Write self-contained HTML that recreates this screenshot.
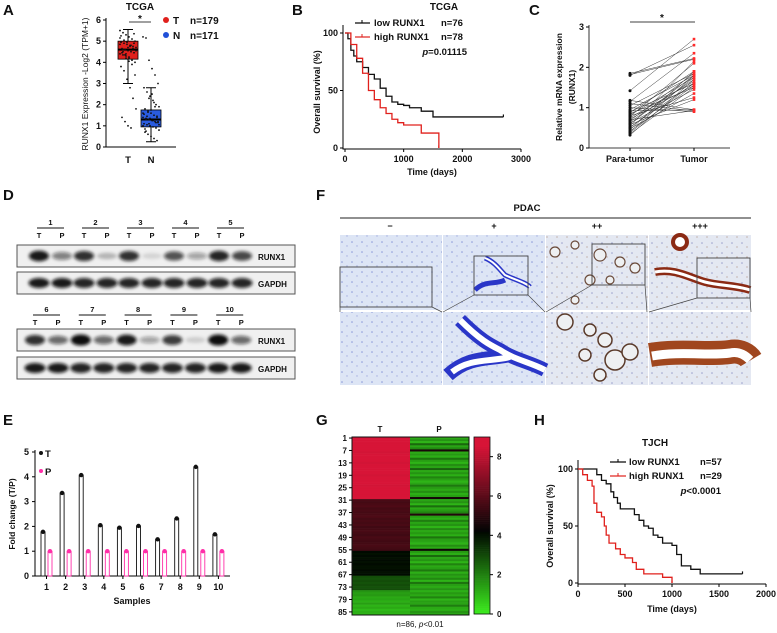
<!DOCTYPE html>
<html><head><meta charset="utf-8"><style>
html,body{margin:0;padding:0;background:#fff;}
svg{display:block;font-family:"Liberation Sans",Arial,sans-serif;font-weight:bold;}
text{fill:#111;}
</style></head><body>
<svg id="fig" width="777" height="633" viewBox="0 0 777 633" xmlns="http://www.w3.org/2000/svg">
<defs>
<filter id="blur" x="-30%" y="-80%" width="160%" height="260%"><feGaussianBlur stdDeviation="1.6"/></filter>
<pattern id="tissue" width="10" height="10" patternUnits="userSpaceOnUse">
<rect width="10" height="10" fill="#dde5f5"/>
<circle cx="2" cy="2" r="0.8" fill="#8a98d8"/><circle cx="7" cy="6" r="0.7" fill="#a4aee0"/>
</pattern>
<pattern id="tissue2" width="10" height="10" patternUnits="userSpaceOnUse">
<rect width="10" height="10" fill="#e4e8f2"/>
<circle cx="2" cy="3" r="0.8" fill="#9aa0cc"/><circle cx="7" cy="7" r="0.6" fill="#b09080"/>
</pattern>
</defs>

<g font-size="15">
<text x="3" y="15">A</text><text x="292" y="15">B</text><text x="529" y="15">C</text>
<text x="3" y="200">D</text><text x="316" y="200">F</text>
<text x="3" y="425">E</text><text x="316" y="425">G</text><text x="534" y="425">H</text>
</g>

<g id="panelA" font-size="9">
<text x="140" y="10" text-anchor="middle" font-size="10">TCGA</text>
<text transform="translate(88,84) rotate(-90)" text-anchor="middle" font-size="8.5" font-weight="normal">RUNX1 Expression -Log2 (TPM+1)</text>
<line x1="129" y1="22" x2="151" y2="22" stroke="#000" stroke-width="0.8"/>
<text x="140" y="22" text-anchor="middle" font-size="10">*</text>
<circle cx="166" cy="20" r="3" fill="#e0201c"/>
<text x="173" y="24" font-size="10">T</text><text x="190" y="24" font-size="10">n=179</text>
<circle cx="166" cy="35" r="3" fill="#2050d8"/>
<text x="173" y="39" font-size="10">N</text><text x="190" y="39" font-size="10">n=171</text>
</g>

<g id="panelB" font-size="9">
<text x="444" y="10" text-anchor="middle" font-size="10">TCGA</text>
<text transform="translate(320,92) rotate(-90)" text-anchor="middle" font-size="9">Overall survival (%)</text>
<text x="432" y="175" text-anchor="middle" font-size="9">Time (days)</text>
<line x1="355" y1="23" x2="370" y2="23" stroke="#000" stroke-width="1.2"/><line x1="362" y1="20" x2="362" y2="23" stroke="#000"/>
<text x="374" y="26" font-size="9.5">low RUNX1</text><text x="441" y="26" font-size="9.5">n=76</text>
<line x1="355" y1="37" x2="370" y2="37" stroke="#e0201c" stroke-width="1.2"/><line x1="362" y1="34" x2="362" y2="37" stroke="#e0201c"/>
<text x="374" y="40" font-size="9.5">high RUNX1</text><text x="441" y="40" font-size="9.5">n=78</text>
<text x="467" y="55" text-anchor="end" font-size="9.5"><tspan font-style="italic">p</tspan>=0.01115</text>
</g>

<g id="panelC" font-size="9">
<text transform="translate(562,87) rotate(-90)" text-anchor="middle" font-size="8.5">Relative mRNA expression</text>
<text transform="translate(575,87) rotate(-90)" text-anchor="middle" font-size="8.5">(RUNX1)</text>
<line x1="630" y1="22" x2="695" y2="22" stroke="#000" stroke-width="0.8"/>
<text x="662" y="21" text-anchor="middle" font-size="10">*</text>
</g>

<g id="panelD" font-size="7.5"></g>

<g id="panelF" font-size="9">
<text x="527" y="211" text-anchor="middle" font-size="9.5">PDAC</text>
<line x1="340" y1="218" x2="751" y2="218" stroke="#222" stroke-width="1"/>
<text x="390" y="229" text-anchor="middle">−</text><text x="494" y="229" text-anchor="middle">+</text>
<text x="597" y="229" text-anchor="middle">++</text><text x="700" y="229" text-anchor="middle">+++</text>
</g>

<g id="panelE" font-size="8.5">
<text transform="translate(15,514) rotate(-90)" text-anchor="middle" font-size="8.5">Fold change (T/P)</text>
<text x="132" y="604" text-anchor="middle" font-size="9">Samples</text>
<circle cx="41" cy="453" r="2" fill="#111"/><text x="45" y="457" font-size="9.5">T</text>
<circle cx="41" cy="471" r="2" fill="#ff2fa8"/><text x="45" y="475" font-size="9.5">P</text>
</g>

<g id="panelG" font-size="8">
<text x="380" y="432" text-anchor="middle" font-size="8">T</text>
<text x="439" y="432" text-anchor="middle" font-size="8">P</text>
<text x="420" y="627" text-anchor="middle" font-size="8" font-weight="normal">n=86, <tspan font-style="italic">p</tspan>&lt;0.01</text>
</g>

<g id="panelH" font-size="9">
<text x="655" y="446" text-anchor="middle" font-size="10">TJCH</text>
<text transform="translate(553,526) rotate(-90)" text-anchor="middle" font-size="9">Overall survival (%)</text>
<text x="672" y="612" text-anchor="middle" font-size="9">Time (days)</text>
<line x1="610" y1="462" x2="626" y2="462" stroke="#000" stroke-width="1.2"/><line x1="618" y1="459" x2="618" y2="462" stroke="#000"/>
<text x="629" y="465" font-size="9.5">low RUNX1</text><text x="700" y="465" font-size="9.5">n=57</text>
<line x1="610" y1="476" x2="626" y2="476" stroke="#e0201c" stroke-width="1.2"/><line x1="618" y1="473" x2="618" y2="476" stroke="#e0201c"/>
<text x="629" y="479" font-size="9.5">high RUNX1</text><text x="700" y="479" font-size="9.5">n=29</text>
<text x="721" y="494" text-anchor="end" font-size="9.5"><tspan font-style="italic">p</tspan>&lt;0.0001</text>
</g>
</svg>
<script>
const boxGroups = ["T","N"];
const boxQ1 = [4.15, 0.95];
const boxMed = [4.6, 1.3];
const boxQ3 = [5.0, 1.75];
const boxLo = [3.0, 0.25];
const boxHi = [5.55, 2.8];
const aYTicks = [0,1,2,3,4,5,6];
const tumorPts = [5.5,5.4,5.3,5.2,5.1,5.0,4.95,4.9,4.85,4.8,4.75,4.7,4.65,4.6,4.55,4.5,4.45,4.4,4.35,4.3,4.2,4.1,4.0,3.8,3.6,3.2,2.8,2.3,1.8,1.4,1.2,1.0,0.9,5.35,4.85,4.6,4.4,4.25,3.9,3.4,5.25,5.05,4.95,4.75,4.65,4.55,4.45,4.35,4.7,4.8,4.9,5.15,4.5,4.2,4.05];
const normalPts = [5.2,5.15,4.1,3.7,3.4,3.0,2.8,2.6,2.4,2.2,2.0,1.9,1.8,1.7,1.6,1.5,1.45,1.4,1.35,1.3,1.25,1.2,1.15,1.1,1.05,1.0,0.95,0.9,0.8,0.7,0.6,0.5,0.4,0.3,1.6,1.3,1.1,2.5,1.9,1.2,1.55,1.45,1.35,1.25,1.15,1.05,0.85,1.65,1.75,2.1,1.4,1.0,0.75,2.3];
const bXTicks = [0,1000,2000,3000];
const bYTicks = [0,50,100];
const bLowT = [0,50,100,150,200,300,400,500,600,700,800,900,1000,1100,1300,1500,2700];
const bLowS = [100,95,85,80,75,70,64,60,52,45,40,38,37,35,32,27,27];
const bHighT = [0,100,200,300,400,500,600,700,800,900,1000,1300,1600];
const bHighS = [100,90,78,65,50,42,35,30,25,22,20,13,0];
const cCats = ["Para-tumor","Tumor"];
const cYTicks = [0,1,2,3];
const cPara = [1.85,1.82,1.8,1.42,1.18,1.15,1.1,1.05,1.0,0.95,0.92,0.9,0.88,0.85,0.82,0.8,0.78,0.75,0.72,0.7,0.68,0.65,0.62,0.6,0.58,0.55,0.52,0.5,0.48,0.45,0.42,0.4,0.38,0.35,0.32];
const cTumor = [2.22,2.2,2.55,2.7,0.95,2.35,0.92,1.85,0.9,1.8,0.95,1.6,1.9,1.5,1.75,1.25,2.1,1.65,1.55,0.93,1.85,1.7,1.45,1.8,1.2,2.15,1.6,1.75,1.35,1.9,1.55,1.8,1.62,1.5,1.7];
const dSamples1 = ["1","2","3","4","5"];
const dSamples2 = ["6","7","8","9","10"];
const dRunxT1 = [0.95,0.85,0.85,0.7,0.9];
const dRunxP1 = [0.5,0.25,0.12,0.35,0.75];
const dRunxT2 = [0.85,1,0.95,0.8,1];
const dRunxP2 = [0.6,0.6,0.35,0.15,0.6];
const dGapdh = [0.95,0.9,0.9,0.9,0.9,0.95,0.9,0.9,0.9,0.95];
const eSamples = ["1","2","3","4","5","6","7","8","9","10"];
const eT = [1.78,3.35,4.07,2.05,1.95,2.02,1.48,2.32,4.4,1.68];
const eP = [1,1,1,1,1,1,1,1,1,1];
const eYTicks = [0,1,2,3,4,5];
const gRowLabels = ["1","7","13","19","25","31","37","43","49","55","61","67","73","79","85"];
const gT = [8.6,8.7,8.5,8.6,8.8,8.5,8.6,8.4,8.7,8.6,8.5,8.6,8.4,8.7,8.5,8.6,8.6,8.5,8.4,8.7,8.6,8.5,8.6,8.4,8.6,8.5,8.7,8.6,8.5,8.6,
 5.6,5.5,5.6,5.7,5.5,5.6,5.5,5.6,5.7,5.5,5.6,5.5,5.6,5.4,5.5,5.6,5.5,5.4,5.6,5.5,5.4,5.5,5.6,5.5,5.4,
 4.1,4.0,4.1,4.0,4.1,4.0,4.1,4.0,4.0,4.1,4.0,4.1,
 2.9,2.8,2.9,2.8,2.9,2.8,2.9,
 1.6,1.4,1.5,1.2,1.3,1.1,1.4,1.0,1.2,0.9,1.1,1.0];
const gP = [1.2,1.6,1.0,2.4,1.3,1.8,4.6,1.2,1.5,1.1,2.2,1.4,1.0,1.7,1.3,2.5,1.2,1.6,1.1,1.9,1.4,1.0,1.3,2.1,1.5,1.2,1.7,1.1,1.4,4.5,
 1.3,1.6,1.0,2.3,1.2,1.5,1.9,4.8,1.4,1.1,2.0,1.3,1.6,1.0,1.8,1.2,1.5,1.1,2.2,1.4,1.3,1.0,1.7,1.2,4.4,
 1.5,1.1,2.4,1.3,1.6,1.0,1.9,1.2,1.4,2.1,1.1,1.6,
 1.3,1.8,1.0,2.2,1.4,1.2,1.6,
 1.1,1.5,1.2,1.9,1.0,1.4,1.3,2.0,1.2,1.1,1.6,1.3];
const gBarTicks = [0,2,4,6,8];
const hXTicks = [0,500,1000,1500,2000];
const hYTicks = [0,50,100];
const hLowT = [0,150,200,250,300,350,380,420,450,550,600,650,700,750,800,850,900,1000,1050,1100,1200,1300,1750];
const hLowS = [100,100,95,90,87,80,75,70,65,65,60,55,50,48,42,40,35,33,25,15,12,8,8];
const hHighT = [0,50,100,150,170,200,250,280,300,330,400,450,500,580,620,700,900,1000];
const hHighS = [100,95,90,85,70,62,58,50,42,35,30,25,22,18,12,8,5,0];

const NS = "http://www.w3.org/2000/svg";
function mk(tag, attrs, parent){const e=document.createElementNS(NS,tag);for(const k in attrs)e.setAttribute(k,attrs[k]);parent.appendChild(e);return e;}
function lin(d0,d1,r0,r1){return v=>r0+(v-d0)*(r1-r0)/(d1-d0);}
function txt(parent,x,y,s,anchor,size){const t=mk("text",{x:x,y:y,"text-anchor":anchor||"middle","font-size":size||9},parent);t.textContent=s;return t;}

(function(){
const g=document.getElementById("panelA");
const y=lin(0,6,147,20);
const xc=[128,151];
const ax=mk("path",{d:"M106,18V147H176",fill:"none",stroke:"#000","stroke-width":1},g);


aYTicks.forEach(v=>{mk("line",{x1:103,x2:106,y1:y(v),y2:y(v),stroke:"#000"},g);const t=txt(g,101,y(v)+3,String(v),"end",9);

});
boxGroups.forEach((n,i)=>{const t=txt(g,xc[i],163,n,"middle",9.5);

});
const cols=["#e0201c","#2a5ce0"];
boxGroups.forEach((n,i)=>{
 const w=mk("path",{d:`M${xc[i]},${y(boxLo[i])}V${y(boxHi[i])}M${xc[i]-5},${y(boxLo[i])}H${xc[i]+5}M${xc[i]-5},${y(boxHi[i])}H${xc[i]+5}`,stroke:"#000","stroke-width":1},g);
 
 
 const b=mk("rect",{x:xc[i]-10,y:y(boxQ3[i]),width:20,height:y(boxQ1[i])-y(boxQ3[i]),fill:cols[i],stroke:"#000","stroke-width":0.8},g);
 
 
 const m=mk("line",{x1:xc[i]-10,x2:xc[i]+10,y1:y(boxMed[i]),y2:y(boxMed[i]),stroke:"#000","stroke-width":2},g);
 
 
});
[tumorPts,normalPts].forEach((arr,gi)=>arr.forEach((v,i)=>{
 const c=mk("circle",{cx:xc[gi]+((i*37)%17-8),cy:y(v),r:0.9,fill:"#111"},g);
 
 
}));
})();

function km(g,x,y,T,S,col,name){
 let d=`M${x(T[0])},${y(S[0])}`;
 for(let i=1;i<T.length;i++){d+=`H${x(T[i])}V${y(S[i])}`;}
 const p=mk("path",{d:d,fill:"none",stroke:col,"stroke-width":1.3},g);
 
 
 const last=T.length-1;
 const c=mk("line",{x1:x(T[last]),x2:x(T[last]),y1:y(S[last])-2.5,y2:y(S[last]),stroke:col,"stroke-width":1.2},g);
 
 
}
function kmAxes(g,x,y,xt,yt,x0,x1,y0,y1,prefix){
 const a=mk("path",{d:`M${x0},${y1}V${y0}H${x1}`,fill:"none",stroke:"#000","stroke-width":1},g);
 
 
 xt.forEach(v=>{mk("line",{x1:x(v),x2:x(v),y1:y0,y2:y0+3,stroke:"#000"},g);const t=txt(g,x(v),y0+13,String(v),"middle",9);
 
 });
 yt.forEach(v=>{mk("line",{x1:x0-3,x2:x0,y1:y(v),y2:y(v),stroke:"#000"},g);const t=txt(g,x0-5,y(v)+3,String(v),"end",9);
 
 });
}
(function(){
const g=document.getElementById("panelB");
const x=lin(0,3000,345,521), y=lin(0,100,148,33);
kmAxes(g,x,y,bXTicks,bYTicks,343,521,149,25,"panel-b");
km(g,x,y,bLowT,bLowS,"#111","km-low-runx1-tcga");
km(g,x,y,bHighT,bHighS,"#e0201c","km-high-runx1-tcga");
})();

(function(){
const g=document.getElementById("panelC");
const y=lin(0,3,148,27); const xc=[630,694];
const a=mk("path",{d:"M589,25V148H730",fill:"none",stroke:"#000","stroke-width":0.8},g);


cYTicks.forEach(v=>{mk("line",{x1:586,x2:589,y1:y(v),y2:y(v),stroke:"#000"},g);const t=txt(g,584,y(v)+3,String(v),"end",9);

});
cCats.forEach((c,i)=>{mk("line",{x1:xc[i],x2:xc[i],y1:148,y2:151,stroke:"#000"},g);const t=txt(g,xc[i],162,c,"middle",9);

});
cPara.forEach((v,i)=>{
 const l=mk("line",{x1:xc[0],y1:y(v),x2:xc[1],y2:y(cTumor[i]),stroke:"#333","stroke-width":0.5},g);
 
 
 const p=mk("circle",{cx:xc[0],cy:y(v),r:1.5,fill:"#111"},g);
 
 
 const q=mk("rect",{x:xc[1]-1.3,y:y(cTumor[i])-1.3,width:2.6,height:2.6,fill:"#ff2a2a"},g);
 
 
});
})();

(function(){
const g=document.getElementById("panelD");
function blotSet(samples,runT,runP,gapOff,yNum,yRun,yGap,x0,step){
 samples.forEach((s,i)=>{
  const tx=x0+i*step, px=tx+23;
  mk("line",{x1:tx-2,x2:px+2,y1:yNum+3,y2:yNum+3,stroke:"#111","stroke-width":1},g);
  const n=txt(g,(tx+px)/2,yNum,s,"middle",7.5);
  
  
  txt(g,tx,yNum+13,"T","middle",7.5);txt(g,px,yNum+13,"P","middle",7.5);
 });
 [[yRun,"RUNX1"],[yGap,"GAPDH"]].forEach(([yy,lab])=>{
  const r=mk("rect",{x:17,y:yy,width:278,height:22,fill:"#f0f0f0",stroke:"#555","stroke-width":1},g);
  
  
  const t=txt(g,258,yy+15,lab,"start",8);
  
  
 });
 samples.forEach((s,i)=>{
  const tx=x0+i*step, px=tx+23;
  [[tx,runT[i]],[px,runP[i]]].forEach(([bx,v])=>{
   const e=mk("ellipse",{cx:bx,cy:yRun+11,rx:10,ry:2.5+3*v,fill:"#111","fill-opacity":v,filter:"url(#blur)"},g);
   
   
  });
  [[tx,dGapdh[gapOff+i]],[px,dGapdh[gapOff+i]]].forEach(([bx,v])=>{
   const e=mk("ellipse",{cx:bx,cy:yGap+11,rx:10.5,ry:5,fill:"#111","fill-opacity":v,filter:"url(#blur)"},g);
   
   
  });
 });
}
blotSet(dSamples1,dRunxT1,dRunxP1,0,225,245,272,39,45);
blotSet(dSamples2,dRunxT2,dRunxP2,5,312,329,357,35,45.8);
})();

(function(){
const g=document.getElementById("panelF");
const cols=[340,443,546,649], w=102;
cols.forEach((cx,i)=>{
 const a=mk("rect",{x:cx,y:235,width:w,height:75,fill:i<2?"url(#tissue)":"url(#tissue2)"},g);
 
 
 const b=mk("rect",{x:cx,y:312,width:w,height:73,fill:i<2?"url(#tissue)":"url(#tissue2)"},g);
 
 
});
function p(d,attrs,name){const e=mk("path",Object.assign({d:d},attrs),g);}
p("M485,258 C495,262 500,270 505,275 C515,280 525,282 530,287 M475,290 C485,280 495,285 505,280",{fill:"none",stroke:"#2a36c8","stroke-width":5},"duct-plus-top");
p("M485,258 C495,262 500,270 505,275 C515,280 525,282 530,287",{fill:"none",stroke:"#fff","stroke-width":2},"lumen-plus-top");
p("M460,320 C480,340 490,345 500,350 C515,360 530,362 545,370 M448,375 C470,355 490,360 510,355",{fill:"none",stroke:"#2a36c8","stroke-width":14},"duct-plus-zoom");
p("M460,320 C480,340 490,345 500,350 C515,360 530,362 545,370 M452,372 C470,358 490,362 510,357",{fill:"none",stroke:"#fff","stroke-width":6},"lumen-plus-zoom");
[[555,252,5],[575,245,4],[600,255,6],[620,262,5],[635,268,5],[590,280,5],[575,300,4],[610,280,4]].forEach(c=>{
 const e=mk("circle",{cx:c[0],cy:c[1],r:c[2],fill:"#eef0f2",stroke:"#6a4a3a","stroke-width":1.2},g);
 
 });
[[565,322,8],[590,330,6],[605,340,7],[585,355,6],[615,360,10],[630,352,8],[600,375,6]].forEach(c=>{
 const e=mk("circle",{cx:c[0],cy:c[1],r:c[2],fill:"#eef0f2",stroke:"#5a3a2a","stroke-width":1.5},g);
 
 });
p("M655,272 C675,268 690,278 705,282 C720,286 735,285 750,290",{fill:"none",stroke:"#8b2a14","stroke-width":8},"duct-ppp-top");
p("M655,272 C675,268 690,278 705,282 C720,286 735,285 750,290",{fill:"none",stroke:"#fff","stroke-width":3},"lumen-ppp-top");
const gl=mk("circle",{cx:680,cy:242,r:7,fill:"#fff",stroke:"#8b2a14","stroke-width":4},g);


p("M650,355 C680,350 710,355 730,352 C740,350 748,355 751,360",{fill:"none",stroke:"#a0461e","stroke-width":24},"duct-ppp-zoom");
p("M652,356 C680,351 710,356 730,353 C740,351 746,356 750,360",{fill:"none",stroke:"#fff","stroke-width":9},"lumen-ppp-zoom");
[[340,267,92,40,340,442],[474,256,54,39,443,545],[592,244,53,41,546,647],[697,258,53,40,649,751]].forEach(b=>{
 const r=mk("rect",{x:b[0],y:b[1],width:b[2],height:b[3],fill:"none",stroke:"#444","stroke-width":0.9},g);
 
 
 mk("path",{d:`M${b[0]},${b[1]+b[3]}L${b[4]},312M${b[0]+b[2]},${b[1]+b[3]}L${b[5]},312`,stroke:"#444","stroke-width":0.7,fill:"none"},g);
});
})();

(function(){
const g=document.getElementById("panelE");
const y=lin(0,5,576,452);
const x=i=>43+i*19.1;
const a=mk("path",{d:"M35,450V576H230",fill:"none",stroke:"#000","stroke-width":1},g);


eYTicks.forEach(v=>{mk("line",{x1:32,x2:35,y1:y(v),y2:y(v),stroke:"#000"},g);const t=txt(g,29,y(v)+3,String(v),"end",9);

});
eSamples.forEach((s,i)=>{
 const c=x(i)+3.5;
 mk("line",{x1:c,x2:c,y1:576,y2:579,stroke:"#000"},g);
 const t=txt(g,c,590,s,"middle",9);
 
 
 const bt=mk("rect",{x:x(i)-2,y:y(eT[i]),width:4,height:576-y(eT[i]),fill:"#fff",stroke:"#111","stroke-width":0.9},g);
 
 
 const dt=mk("circle",{cx:x(i),cy:y(eT[i]),r:2.2,fill:"#111"},g);
 
 
 const bp=mk("rect",{x:x(i)+5,y:y(eP[i]),width:4,height:576-y(eP[i]),fill:"#fff",stroke:"#ff2fa8","stroke-width":0.9},g);
 
 
 const dp=mk("circle",{cx:x(i)+7,cy:y(eP[i]),r:2.2,fill:"#ff2fa8"},g);
 
 
});
})();

(function(){
const g=document.getElementById("panelG");
const top=437,bot=615,n=gT.length,rh=(bot-top)/n;
function col(v){
 const t=Math.max(0,Math.min(9,v));
 if(t<4.2){const f=t/4.2;return `rgb(${Math.round(60*(1-f))},${Math.round(235*(1-f)+5*f)},${Math.round(30*(1-f))})`;}
 const f=Math.min(1,(t-4.2)/4.3);return `rgb(${Math.round(5+210*f)},${Math.round(5+15*f)},${Math.round(5+50*f)})`;
}
gT.forEach((v,i)=>{
 const r=mk("rect",{x:352,y:top+i*rh,width:58,height:rh+0.3,fill:col(v)},g);
 
 
});
gP.forEach((v,i)=>{
 const r=mk("rect",{x:410,y:top+i*rh,width:59,height:rh+0.3,fill:col(v)},g);
 
 
});
mk("rect",{x:352,y:top,width:117,height:bot-top,fill:"none",stroke:"#111","stroke-width":1},g);
gRowLabels.forEach(l=>{
 const yy=top+(parseInt(l)-0.5)*rh;
 mk("line",{x1:349,x2:352,y1:yy,y2:yy,stroke:"#000"},g);
 const t=txt(g,347,yy+3,l,"end",8);
 
 
});
const cy=lin(0,9,614,437);
for(let k=0;k<90;k++){
 const v=k/10;
 mk("rect",{x:474,y:cy(v+0.1),width:16,height:cy(v)-cy(v+0.1)+0.3,fill:col(v)},g);
}
const cb=mk("rect",{x:474,y:437,width:16,height:177,fill:"none",stroke:"#111","stroke-width":0.8},g);


gBarTicks.forEach(v=>{mk("line",{x1:490,x2:493,y1:cy(v),y2:cy(v),stroke:"#000"},g);const t=txt(g,497,cy(v)+3,String(v),"start",8);

});
})();

(function(){
const g=document.getElementById("panelH");
const x=lin(0,2000,578,766), y=lin(0,100,583,469);
kmAxes(g,x,y,hXTicks,hYTicks,578,766,584,460,"panel-h");
km(g,x,y,hLowT,hLowS,"#111","km-low-runx1-tjch");
km(g,x,y,hHighT,hHighS,"#e0201c","km-high-runx1-tjch");
})();
</script>
</body></html>
